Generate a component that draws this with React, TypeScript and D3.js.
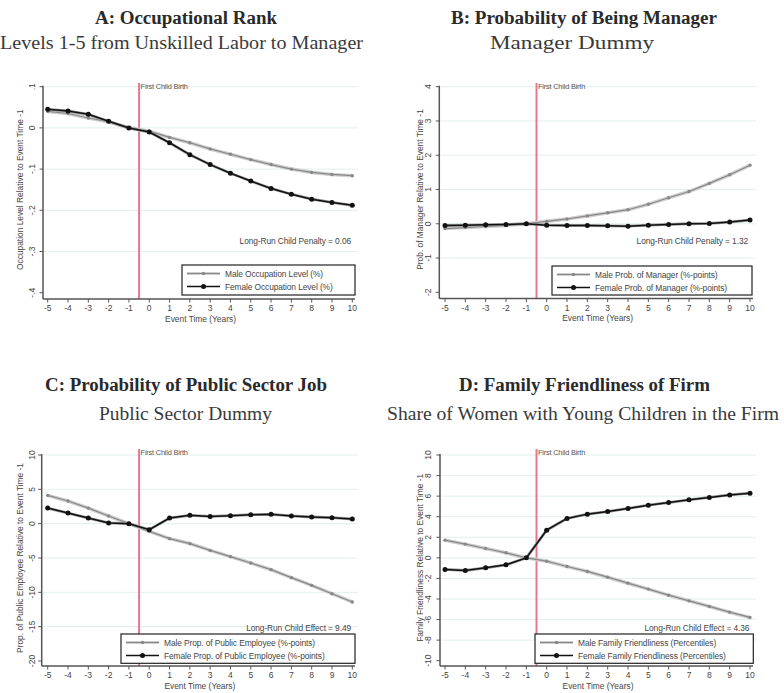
import React from "react";
import * as d3 from "d3";

const eventTime = [-5, -4, -3, -2, -1, 0, 1, 2, 3, 4, 5, 6, 7, 8, 9, 10];

const occMale = [0.040, 0.035, 0.024, 0.015, 0, -0.008, -0.023, -0.036, -0.051, -0.064, -0.077, -0.089, -0.100, -0.108, -0.113, -0.116];
const occFemale = [0.045, 0.041, 0.033, 0.016, 0, -0.010, -0.036, -0.065, -0.089, -0.110, -0.129, -0.147, -0.161, -0.173, -0.181, -0.188];
const mgrMale = [-0.14, -0.11, -0.08, -0.05, 0, 0.07, 0.14, 0.23, 0.32, 0.41, 0.57, 0.76, 0.94, 1.18, 1.43, 1.71];
const mgrFemale = [-0.05, -0.04, -0.03, -0.02, 0, -0.04, -0.05, -0.05, -0.06, -0.07, -0.04, -0.02, 0.0, 0.01, 0.05, 0.11];
const pubMale = [4.12, 3.3, 2.27, 1.12, 0, -1.12, -2.18, -2.9, -3.89, -4.8, -5.73, -6.7, -7.86, -8.98, -10.2, -11.4];
const pubFemale = [2.27, 1.55, 0.82, 0.1, 0, -0.87, 0.82, 1.21, 1.06, 1.16, 1.3, 1.36, 1.12, 0.97, 0.87, 0.68];
const famMale = [1.72, 1.33, 0.91, 0.49, 0, -0.32, -0.84, -1.32, -1.88, -2.46, -3.04, -3.63, -4.18, -4.72, -5.28, -5.79];
const famFemale = [-1.13, -1.23, -0.97, -0.68, 0, 2.69, 3.83, 4.25, 4.5, 4.8, 5.12, 5.38, 5.64, 5.87, 6.12, 6.29];

const occTicks = [0.1, 0, -0.1, -0.2, -0.3, -0.4];
const occTickLabels = [".1", "0", "-.1", "-.2", "-.3", "-.4"];
const mgrTicks = [4, 3, 2, 1, 0, -1, -2];
const mgrTickLabels = ["4", "3", "2", "1", "0", "-1", "-2"];
const pubTicks = [10, 5, 0, -5, -10, -15, -20];
const pubTickLabels = ["10", "5", "0", "-5", "-10", "-15", "-20"];
const famTicks = [10, 8, 6, 4, 2, 0, -2, -4, -6, -8, -10];
const famTickLabels = ["10", "8", "6", "4", "2", "0", "-2", "-4", "-6", "-8", "-10"];

const SANS = "'Liberation Sans', Arial, Helvetica, sans-serif";
const SERIF = "'Liberation Serif', 'Times New Roman', serif";
const TXT = "#454545";
const RED = "#e8778a";

type PanelProps = {
  title: string;
  subtitle: string;
  titleX: number;
  subX: number;
  titleW: number;
  subW: number;
  titleY: number;
  subY: number;
  x0: number;
  x1: number;
  axisX: number;
  rightX: number;
  topY: number;
  bottomY: number;
  yDomain: [number, number];
  yRange: [number, number];
  ticks: number[];
  tickLabels: string[];
  male: number[];
  female: number[];
  maleLabel: string;
  femaleLabel: string;
  yTitle: string;
  yTitleX: number;
  tickLabelX: number;
  legend: { x: number; y: number; w: number; h: number };
  note: string;
  noteY: number;
};

function Panel(p: PanelProps) {
  const x = d3.scaleLinear().domain([-5, 10]).range([p.x0, p.x1]);
  const y = d3.scaleLinear().domain(p.yDomain).range(p.yRange);
  const line = d3
    .line<number>()
    .x((_, i) => x(eventTime[i]))
    .y((d) => y(d));
  const redX = x(-0.5);
  const yMid = (y(p.yDomain[0]) + y(p.yDomain[1])) / 2;
  const plotMid = (p.axisX + p.rightX) / 2;
  const lg = p.legend;
  const r1 = lg.y + 8.5;
  const r2 = lg.y + 21.5;
  return (
    <g>
      <text x={p.titleX} y={p.titleY} textAnchor="middle" fontFamily={SERIF} fontWeight="bold" fontSize={18} fill="#2a2a2a"
        textLength={p.titleW} lengthAdjust="spacingAndGlyphs">
        {p.title}
      </text>
      <text x={p.subX} y={p.subY} textAnchor="middle" fontFamily={SERIF} fontSize={18} fill="#3a3a3a"
        textLength={p.subW} lengthAdjust="spacingAndGlyphs">
        {p.subtitle}
      </text>
      {p.ticks
        .filter((t) => t !== p.yDomain[0])
        .map((t) => (
          <line key={"g" + t} x1={p.axisX + 1} x2={p.rightX} y1={y(t)} y2={y(t)} stroke="#e3eeee" strokeWidth={1} />
        ))}
      <line x1={redX} x2={redX} y1={p.topY} y2={p.bottomY} stroke={RED} strokeWidth={2} />
      <text x={redX + 1.5} y={p.topY + 6} fontFamily={SANS} fontSize={7.4} fill="#555" letterSpacing={-0.2}>
        First Child Birth
      </text>
      <path d={line(p.male) || ""} fill="none" stroke="#cfcfcf" strokeWidth={3.6} />
      <path d={line(p.male) || ""} fill="none" stroke="#888" strokeWidth={1.2} />
      {p.male.map((v, i) => (
        <circle key={"m" + i} cx={x(eventTime[i])} cy={y(v)} r={1.7} fill="#888" />
      ))}
      <path d={line(p.female) || ""} fill="none" stroke="#999" strokeWidth={2.8} />
      <path d={line(p.female) || ""} fill="none" stroke="#111" strokeWidth={1.5} />
      {p.female.map((v, i) => (
        <circle key={"f" + i} cx={x(eventTime[i])} cy={y(v)} r={2.5} fill="#111" />
      ))}
      <line x1={p.axisX} x2={p.axisX} y1={y(p.yDomain[1]) - 1} y2={p.bottomY} stroke="#555" strokeWidth={1.5} />
      <line x1={p.axisX} x2={p.rightX - 3} y1={p.bottomY} y2={p.bottomY} stroke="#555" strokeWidth={1.5} />
      {p.ticks.map((t, i) => (
        <g key={"yt" + t}>
          <line x1={p.axisX - 3.5} x2={p.axisX} y1={y(t)} y2={y(t)} stroke="#555" strokeWidth={1} />
          <text
            transform={`translate(${p.tickLabelX},${y(t)}) rotate(-90)`}
            textAnchor="middle"
            fontFamily={SANS}
            fontSize={8.5}
            fill={TXT}
          >
            {p.tickLabels[i]}
          </text>
        </g>
      ))}
      {eventTime.map((t) => (
        <g key={"xt" + t}>
          <line x1={x(t)} x2={x(t)} y1={p.bottomY} y2={p.bottomY + 3.5} stroke="#555" strokeWidth={1} />
          <text x={x(t)} y={p.bottomY + 12.3} textAnchor="middle" fontFamily={SANS} fontSize={8.5} fill={TXT}>
            {String(t)}
          </text>
        </g>
      ))}
      <text x={plotMid} y={p.bottomY + 22.5} textAnchor="middle" fontFamily={SANS} fontSize={8.4} fill={TXT}>
        Event Time (Years)
      </text>
      <text
        transform={`translate(${p.yTitleX},${yMid}) rotate(-90)`}
        textAnchor="middle"
        fontFamily={SANS}
        fontSize={8.4}
        fill={TXT}
      >
        {p.yTitle}
      </text>
      <text x={lg.x + lg.w - 4} y={p.noteY + 3} textAnchor="end" fontFamily={SANS} fontSize={8.4} fill={TXT} letterSpacing={-0.1}>
        {p.note}
      </text>
      <rect x={lg.x} y={lg.y} width={lg.w} height={lg.h} fill="#fff" stroke="#222" strokeWidth={1.2} />
      <line x1={lg.x + 5} x2={lg.x + 38} y1={r1} y2={r1} stroke="#cfcfcf" strokeWidth={3} />
      <line x1={lg.x + 5} x2={lg.x + 38} y1={r1} y2={r1} stroke="#888" strokeWidth={1.2} />
      <circle cx={lg.x + 21.5} cy={r1} r={1.7} fill="#888" />
      <line x1={lg.x + 5} x2={lg.x + 38} y1={r2} y2={r2} stroke="#111" strokeWidth={1.5} />
      <circle cx={lg.x + 21.5} cy={r2} r={2.5} fill="#111" />
      <text x={lg.x + 43} y={r1 + 3} fontFamily={SANS} fontSize={8.4} fill={TXT} letterSpacing={-0.1}>
        {p.maleLabel}
      </text>
      <text x={lg.x + 43} y={r2 + 3} fontFamily={SANS} fontSize={8.4} fill={TXT} letterSpacing={-0.1}>
        {p.femaleLabel}
      </text>
    </g>
  );
}

export default function App() {
  return (
    <svg width={784} height={693} style={{ position: "absolute", left: 0, top: 0, background: "#fff" }}>
      <rect x={0} y={0} width={784} height={693} fill="#fff" />
      <Panel
        title="A: Occupational Rank"
        subtitle="Levels 1-5 from Unskilled Labor to Manager"
        titleX={186}
        subX={181.5}
        titleW={182}
        subW={363}
        titleY={24}
        subY={49}
        x0={47.7}
        x1={352.3}
        axisX={43}
        rightX={358}
        topY={83}
        bottomY={299}
        yDomain={[-0.4, 0.1]}
        yRange={[292.7, 86.7]}
        ticks={occTicks}
        tickLabels={occTickLabels}
        male={occMale}
        female={occFemale}
        maleLabel="Male Occupation Level (%)"
        femaleLabel="Female Occupation Level (%)"
        yTitle="Occupation Level Relative to Event Time -1"
        yTitleX={23}
        tickLabelX={34.5}
        legend={{ x: 182, y: 265, w: 173, h: 30 }}
        note="Long-Run Child Penalty = 0.06"
        noteY={241}
      />
      <Panel
        title="B: Probability of Being Manager"
        subtitle="Manager Dummy"
        titleX={584}
        subX={572}
        titleW={266}
        subW={164}
        titleY={24}
        subY={49}
        x0={445}
        x1={750}
        axisX={439.3}
        rightX={756}
        topY={83}
        bottomY={298.5}
        yDomain={[-2, 4]}
        yRange={[292.3, 86.7]}
        ticks={mgrTicks}
        tickLabels={mgrTickLabels}
        male={mgrMale}
        female={mgrFemale}
        maleLabel="Male Prob. of Manager (%-points)"
        femaleLabel="Female Prob. of Manager (%-points)"
        yTitle="Prob. of Manager Relative to Event Time -1"
        yTitleX={423}
        tickLabelX={431}
        legend={{ x: 552, y: 266, w: 200, h: 29 }}
        note="Long-Run Child Penalty = 1.32"
        noteY={241}
      />
      <Panel
        title="C: Probability of Public Sector Job"
        subtitle="Public Sector Dummy"
        titleX={186}
        subX={185.5}
        titleW={282}
        subW={173}
        titleY={391}
        subY={420}
        x0={47.7}
        x1={352.3}
        axisX={41.7}
        rightX={358}
        topY={449}
        bottomY={666}
        yDomain={[-20, 10]}
        yRange={[661, 455]}
        ticks={pubTicks}
        tickLabels={pubTickLabels}
        male={pubMale}
        female={pubFemale}
        maleLabel="Male Prop. of Public Employee (%-points)"
        femaleLabel="Female Prop. of Public Employee (%-points)"
        yTitle="Prop. of Public Employee Relative to Event Time -1"
        yTitleX={23}
        tickLabelX={34.5}
        legend={{ x: 121, y: 634, w: 234, h: 29.3 }}
        note="Long-Run Child Effect = 9.49"
        noteY={627.7}
      />
      <Panel
        title="D: Family Friendliness of Firm"
        subtitle="Share of Women with Young Children in the Firm"
        titleX={584.5}
        subX={583}
        titleW={251}
        subW={392}
        titleY={391}
        subY={420}
        x0={445}
        x1={750}
        axisX={440}
        rightX={756}
        topY={449}
        bottomY={666}
        yDomain={[-10, 10]}
        yRange={[660.7, 455]}
        ticks={famTicks}
        tickLabels={famTickLabels}
        male={famMale}
        female={famFemale}
        maleLabel="Male Family Friendliness (Percentiles)"
        femaleLabel="Female Family Friendliness (Percentiles)"
        yTitle="Family Friendliness Relative to Event Time -1"
        yTitleX={423}
        tickLabelX={431}
        legend={{ x: 535, y: 634, w: 218.3, h: 29.3 }}
        note="Long-Run Child Effect = 4.36"
        noteY={627.7}
      />
    </svg>
  );
}
